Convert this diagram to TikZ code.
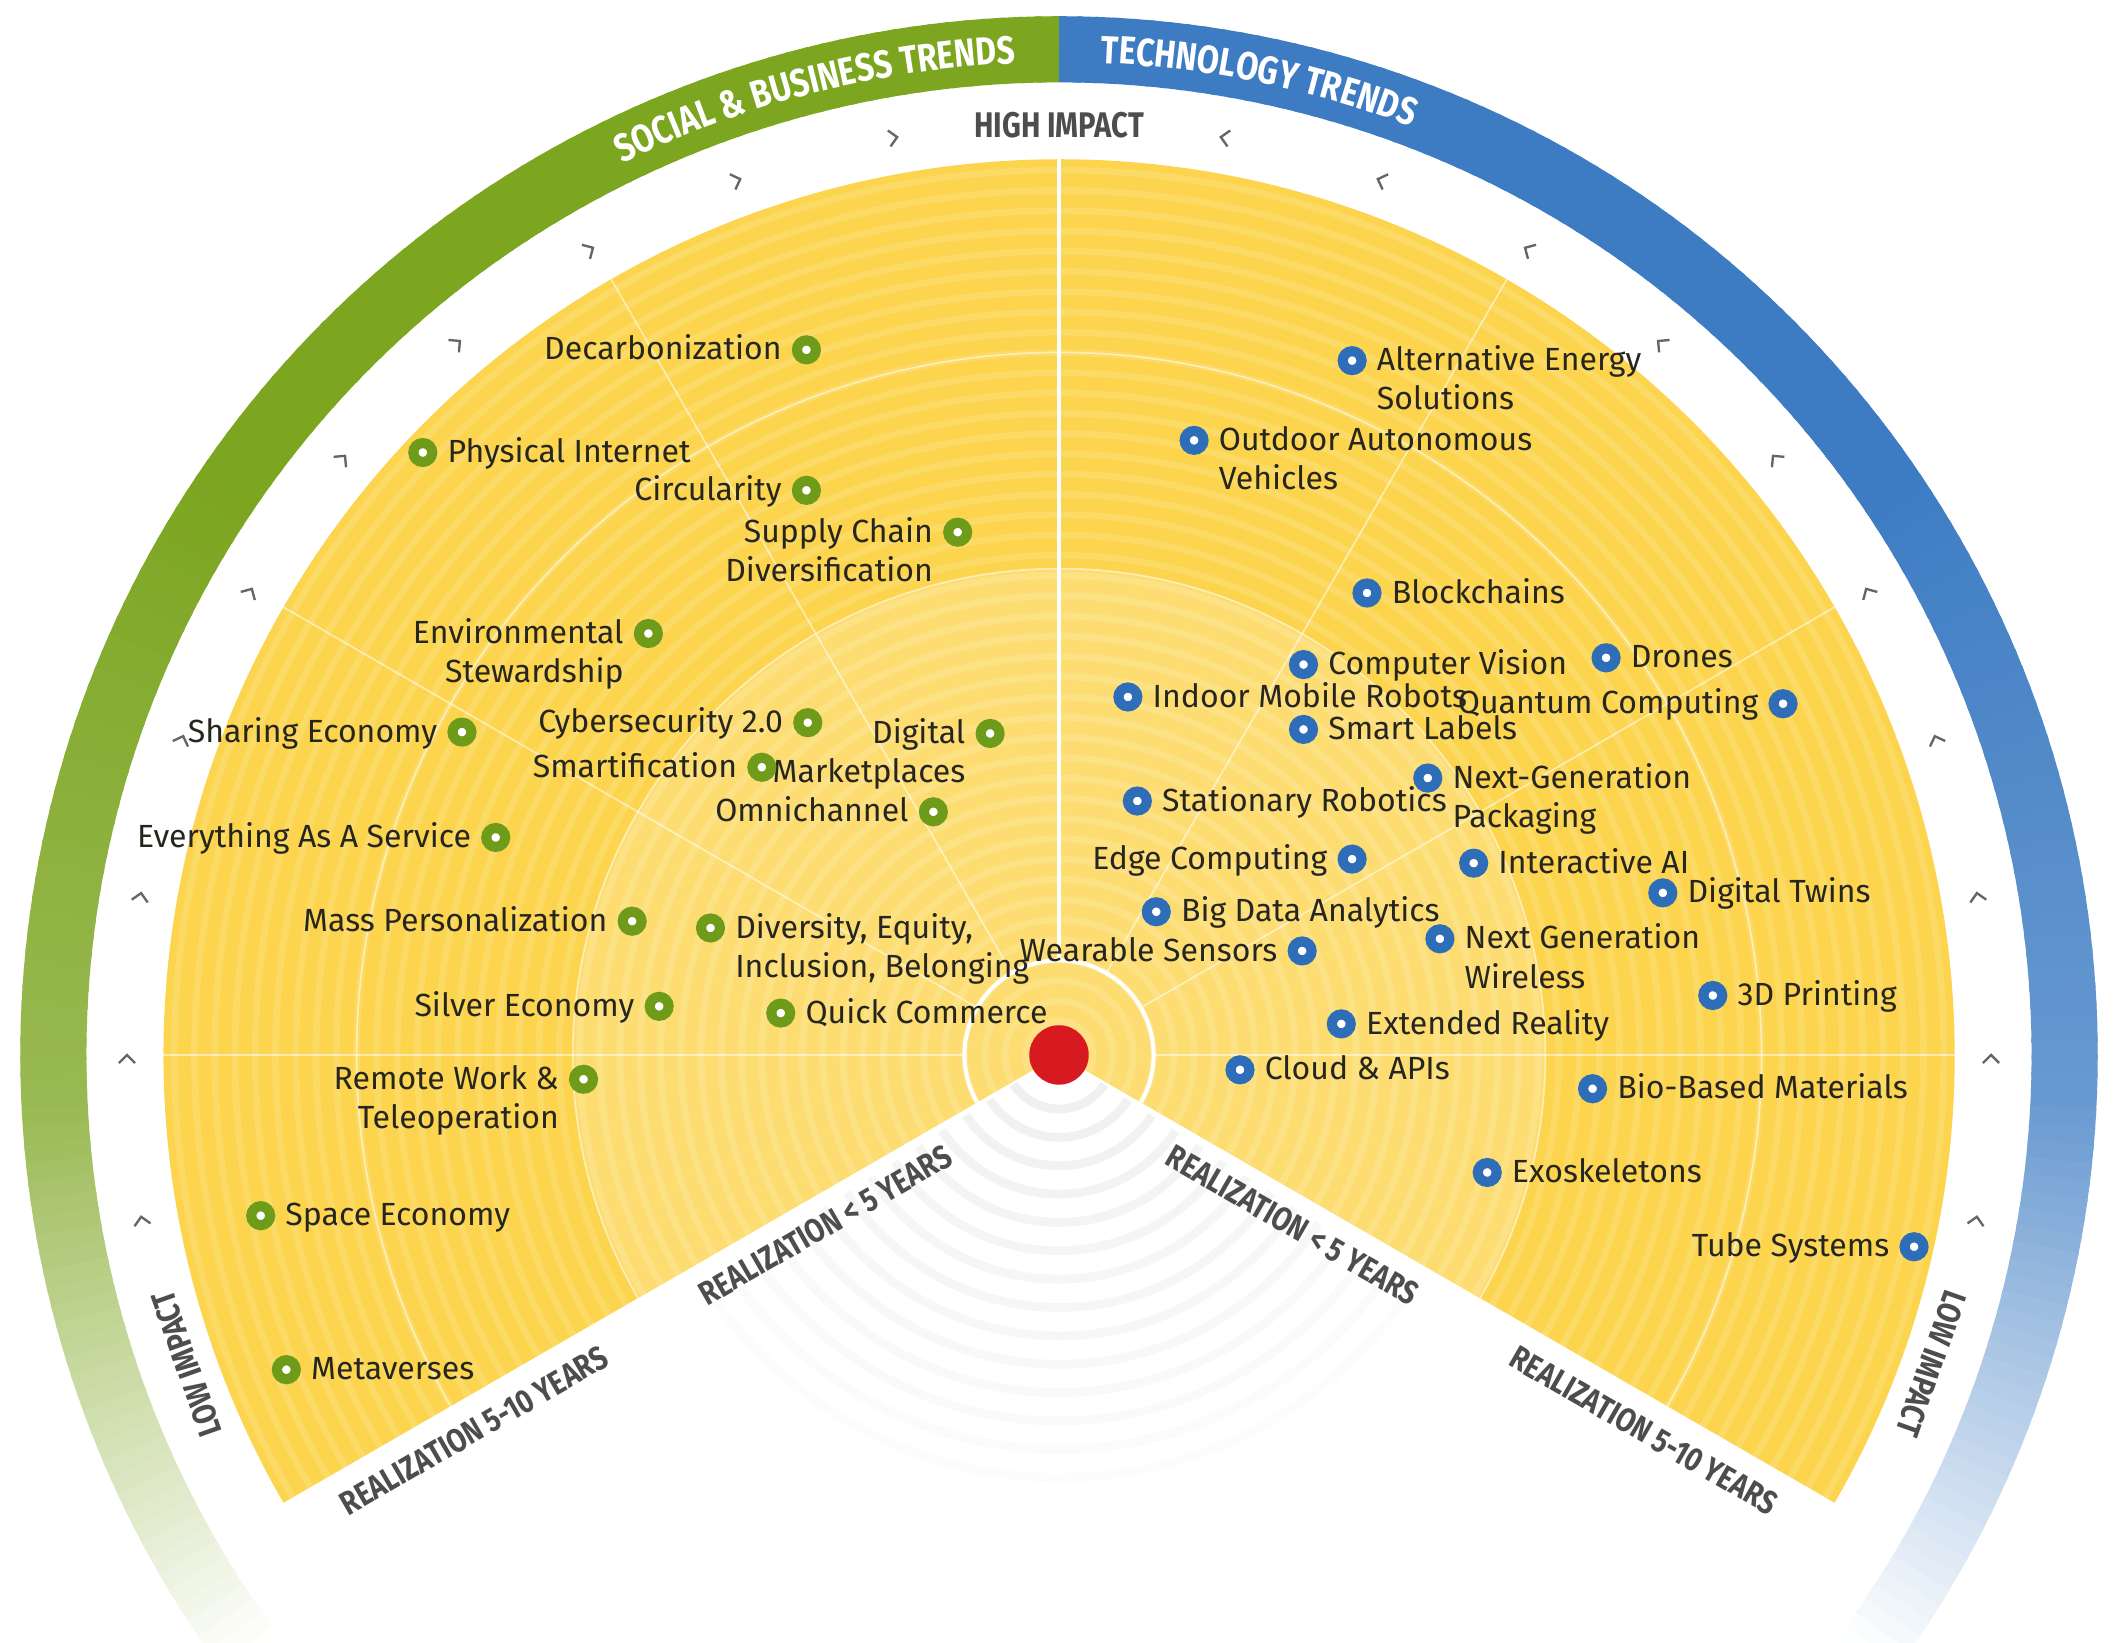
\documentclass[tikz,border=0pt]{standalone}
\usepackage{fontspec}
\setmainfont{Fira Sans}
\newfontfamily\condfont[FakeStretch=0.82]{Fira Sans}
\usetikzlibrary{decorations.text}
\definecolor{ylw}{HTML}{FCD44E}
\definecolor{ylwL}{HTML}{FDDD72}
\definecolor{rgreen}{HTML}{7CA520}
\definecolor{rblue}{HTML}{3D7CC3}
\definecolor{dgreen}{HTML}{6E9C1A}
\definecolor{dblue}{HTML}{2E6DB8}
\definecolor{txt}{HTML}{26261E}
\definecolor{hdr}{HTML}{4D4D4D}
\definecolor{rdot}{HTML}{D71920}
\newcommand\GL[4]{\node[gdot] (#1) at (#2,-#3) {}; \node[lab, anchor=base east] (#1t) at ([xshift=-0.36cm,yshift=-0.15cm]#1.center) {#4};}
\newcommand\GR[4]{\node[gdot] (#1) at (#2,-#3) {}; \node[lab, anchor=base west] (#1t) at ([xshift=0.36cm,yshift=-0.15cm]#1.center) {#4};}
\newcommand\BL[4]{\node[bdot] (#1) at (#2,-#3) {}; \node[lab, anchor=base east] (#1t) at ([xshift=-0.36cm,yshift=-0.15cm]#1.center) {#4};}
\newcommand\BR[4]{\node[bdot] (#1) at (#2,-#3) {}; \node[lab, anchor=base west] (#1t) at ([xshift=0.36cm,yshift=-0.15cm]#1.center) {#4};}
\newcommand\SecL[2]{\node[lab, anchor=base east] (#1u) at ([yshift=-0.58cm]#1t.base east) {#2};}
\newcommand\SecR[2]{\node[lab, anchor=base west] (#1u) at ([yshift=-0.58cm]#1t.base west) {#2};}
\begin{document}
\begin{tikzpicture}[x=0.02cm,y=0.02cm,
  lab/.style={font=\fontsize{13.5}{16}\selectfont, text=txt, inner sep=0pt},
  gdot/.style={circle, draw=dgreen, fill=white, line width=0.15cm, minimum size=0.28cm, inner sep=0pt},
  bdot/.style={gdot, draw=dblue},
  capt/.style={font=\condfont\bfseries\fontsize{14}{14}\selectfont, text=hdr, inner sep=0pt},
  chev/.style={draw=black!60, line width=0.035cm},
  faint/.style={draw=white, opacity=0.55, line width=0.025cm}]
\fill[white] (0,0) rectangle (1568,-1216);
\useasboundingbox (0,0) rectangle (1568,-1216);
\begin{scope}[shift={(784,-781)}]
  % outer ring
  \foreach \a in {90,91,...,216} {
    \pgfmathsetmacro\p{(\a<=145) ? 100 : ((\a<=182) ? 100-(\a-145)*0.6 : ((\a<=200) ? 78-(\a-182)*2.3 : max(0,37-(\a-200)*2.3)))}
    \draw[line width=0.98cm, rgreen!\p!white] (\a:744.5) arc[start angle=\a, end angle=\a+1.3, radius=744.5];
  }
  \foreach \a in {90,89,...,-36} {
    \pgfmathsetmacro\b{180-\a}
    \pgfmathsetmacro\p{(\b<=145) ? 100 : ((\b<=182) ? 100-(\b-145)*0.6 : ((\b<=200) ? 78-(\b-182)*2.3 : max(0,37-(\b-200)*2.3)))}
    \draw[line width=0.98cm, rblue!\p!white] (\a:744.5) arc[start angle=\a, end angle=\a-1.3, radius=744.5];
  }
  \path[decorate, decoration={text along path, text align=center, text color=white,
     text={|\condfont\bfseries\fontsize{16.5}{16.5}\selectfont|SOCIAL {\&} BUSINESS TRENDS}}]
     (125:735) arc[start angle=125, end angle=83.6, radius=735];
  \path[decorate, decoration={text along path, text align=center, text color=white,
     text={|\condfont\bfseries\fontsize{16.5}{16.5}\selectfont|TECHNOLOGY TRENDS}}]
     (98.4:735) arc[start angle=98.4, end angle=58.4, radius=735];
  % yellow sector
  \fill[ylw] (0,0) -- (-30:663) arc[start angle=-30, end angle=210, radius=663] -- cycle;
  \fill[ylwL] (0,0) -- (-30:360) arc[start angle=-30, end angle=210, radius=360] -- cycle;
  \begin{scope}
    \clip (0,0) -- (-30:663) arc[start angle=-30, end angle=210, radius=663] -- cycle;
    \foreach \r in {25,40,...,655} { \draw[white, opacity=0.14, line width=0.1cm] (0,0) circle[radius=\r]; }
  \end{scope}
  \foreach \a in {0,30,60,120,150,180} { \draw[faint] (\a:70) -- (\a:663); }
  \draw[faint] (-30:360) arc[start angle=-30, end angle=210, radius=360];
  \draw[faint] (-30:520) arc[start angle=-30, end angle=210, radius=520];
  \draw[white, line width=0.06cm] (90:70) -- (90:663);
  \draw[white, line width=0.06cm] (-30:70) arc[start angle=-30, end angle=210, radius=70];
  % bottom wedge rings
  \foreach \r [count=\i] in {40,61,...,320} {
    \pgfmathsetmacro\o{max(0.15,0.85-\i*0.05)}
    \draw[black!7, opacity=\o, line width=0.13cm] (213:\r) arc[start angle=213, end angle=327, radius=\r];
  }
  \fill[rdot] (0,0) circle[radius=22];
  % chevrons
  \foreach \a in {100,110,...,190} { \draw[chev, shift={(\a:690)}, rotate=\a-90] (-6,6) -- (0,0) -- (-6,-6); }
  \foreach \a in {80,70,...,-10} { \draw[chev, shift={(\a:690)}, rotate=\a+90] (-6,6) -- (0,0) -- (-6,-6); }
  % captions
  \node[capt, font=\condfont\bfseries\fontsize{15}{15}\selectfont] (hi) at (0,688) {HIGH IMPACT};
  \node[capt, rotate=109.5] (lowl) at (199.5:685) {LOW IMPACT};
  \node[capt, rotate=-109.5] (lowr) at (-19.5:685) {LOW IMPACT};
  \node[capt, rotate=30] (rl5) at (-173,-126) {REALIZATION < 5 YEARS};
  \node[capt, rotate=30] (rl10) at (-433,-278) {REALIZATION 5-10 YEARS};
  \node[capt, rotate=-30] (rr5) at (173,-126) {REALIZATION < 5 YEARS};
  \node[capt, rotate=-30] (rr10) at (433,-278) {REALIZATION 5-10 YEARS};
\end{scope}
% social & business trends
\GL{g1}{597}{259}{Decarbonization}
\GR{g2}{313}{335}{Physical Internet}
\GL{g3}{597}{363}{Circularity}
\GL{g4}{709}{394}{Supply Chain}\SecL{g4}{Diversification}
\GL{g5}{480}{469}{Environmental}\SecL{g5}{Stewardship}
\GL{g6}{342}{542}{Sharing Economy}
\GL{g7}{598}{535}{Cybersecurity 2.0}
\GL{g8}{733}{543}{Digital}\SecL{g8}{Marketplaces}
\GL{g9}{564}{568}{Smartification}
\GL{g10}{691}{601}{Omnichannel}
\GL{g11}{367}{620}{Everything As A Service}
\GL{g12}{468}{682}{Mass Personalization}
\GR{g13}{526}{687}{Diversity, Equity,}\SecR{g13}{Inclusion, Belonging}
\GL{g14}{488}{745}{Silver Economy}
\GR{g15}{578}{750}{Quick Commerce}
\GL{g16}{432}{799}{Remote Work \&}\SecL{g16}{Teleoperation}
\GR{g17}{193}{900}{Space Economy}
\GR{g18}{212}{1014}{Metaverses}
% technology trends
\BR{b1}{1001}{267}{Alternative Energy}\SecR{b1}{Solutions}
\BR{b2}{884}{326}{Outdoor Autonomous}\SecR{b2}{Vehicles}
\BR{b3}{1012}{439}{Blockchains}
\BR{b4}{965}{492}{Computer Vision}
\BR{b5}{1189}{487}{Drones}
\BR{b6}{835}{516}{Indoor Mobile Robots}
\BL{b7}{1320}{521}{Quantum Computing}
\BR{b8}{965}{540}{Smart Labels}
\BR{b9}{1057}{576}{Next-Generation}\SecR{b9}{Packaging}
\BR{b10}{842}{593}{Stationary Robotics}
\BL{b11}{1001}{636}{Edge Computing}
\BR{b12}{1091}{639}{Interactive AI}
\BR{b13}{1231}{661}{Digital Twins}
\BR{b14}{856}{675}{Big Data Analytics}
\BR{b15}{1066}{695}{Next Generation}\SecR{b15}{Wireless}
\BL{b16}{964}{704}{Wearable Sensors}
\BR{b17}{1268}{737}{3D Printing}
\BR{b18}{993}{758}{Extended Reality}
\BR{b19}{918}{792}{Cloud \& APIs}
\BR{b20}{1179}{806}{Bio-Based Materials}
\BR{b21}{1101}{868}{Exoskeletons}
\BL{b22}{1417}{923}{Tube Systems}
\end{tikzpicture}
\end{document}
